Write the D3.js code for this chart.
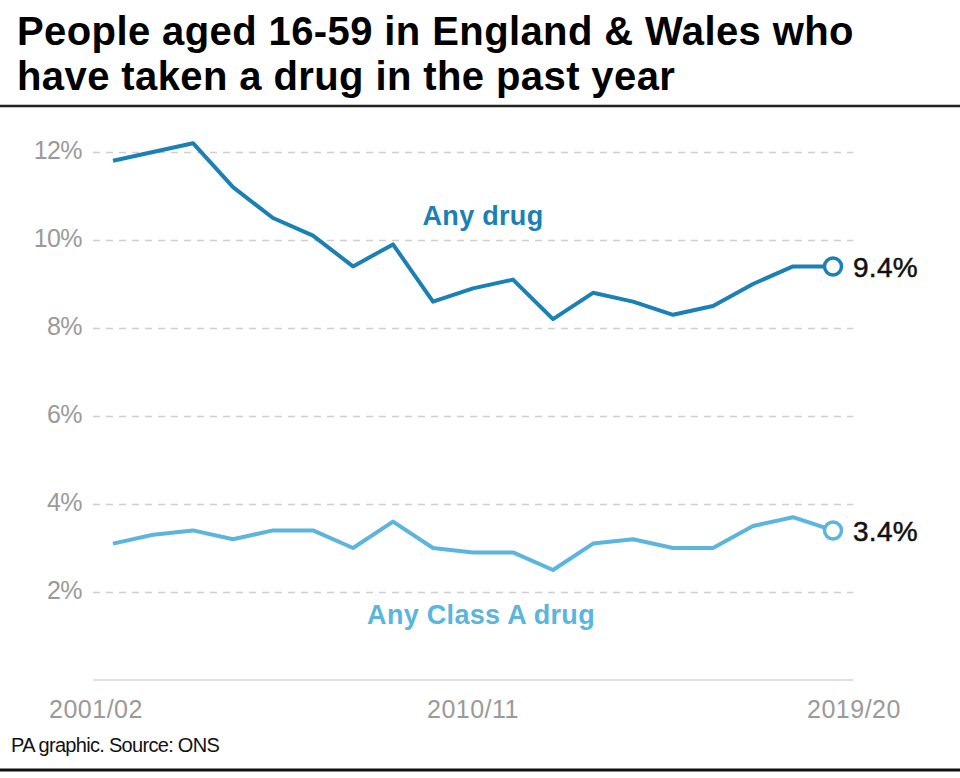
<!DOCTYPE html>
<html>
<head>
<meta charset="utf-8">
<script src="https://cdn.jsdelivr.net/npm/d3@7"></script>
<style>
  html, body { margin: 0; padding: 0; background: #fff; }
  svg { display: block; font-family: "Liberation Sans", Arial, sans-serif; }
</style>
</head>
<body>
<svg id="chart" width="960" height="778"></svg>
<script>
const years = ["2001/02","2002/03","2003/04","2004/05","2005/06","2006/07","2007/08","2008/09","2009/10","2010/11","2011/12","2012/13","2013/14","2014/15","2015/16","2016/17","2017/18","2018/19","2019/20"];
const anyDrug = [11.8, 12.0, 12.2, 11.2, 10.5, 10.1, 9.4, 9.9, 8.6, 8.9, 9.1, 8.2, 8.8, 8.6, 8.3, 8.5, 9.0, 9.4, 9.4];
const classA = [3.1, 3.3, 3.4, 3.2, 3.4, 3.4, 3.0, 3.6, 3.0, 2.9, 2.9, 2.5, 3.1, 3.2, 3.0, 3.0, 3.5, 3.7, 3.4];
const yTicks = [2, 4, 6, 8, 10, 12];
const xTickLabels = ["2001/02", "2010/11", "2019/20"];
const titleLines = ["People aged 16-59 in England & Wales who", "have taken a drug in the past year"];

const colDark = "#1a80b6";
const colLight = "#5bb5dc";

const svg = d3.select("#chart");

// Title
svg.append("g").selectAll("text").data(titleLines).join("text")
  .attr("x", 17).attr("y", (d, i) => 44.5 + i * 45)
  .attr("font-size", 40).attr("font-weight", "bold")
  .attr("letter-spacing", 0.4)
  .attr("fill", "#000").text(d => d);

svg.append("line").attr("x1", 0).attr("x2", 960).attr("y1", 106).attr("y2", 106)
  .attr("stroke", "#222").attr("stroke-width", 2.5);

const x = d3.scaleBand().domain(years).range([93, 853]);
const cx = d => x(d) + x.bandwidth() / 2;
const y = d3.scaleLinear().domain([0, 12]).range([680, 152]);

// gridlines
const yAxis = d3.axisLeft(y).tickValues(yTicks).tickSize(-(853 - 93)).tickFormat(d => d + "%");
const gy = svg.append("g").attr("transform", "translate(93,0)").call(yAxis);
gy.select(".domain").remove();
gy.selectAll(".tick line").attr("stroke", "#cfcfcf").attr("stroke-width", 1.5).attr("stroke-dasharray", "7,6");
gy.selectAll(".tick text").attr("x", -11).attr("dy", "0.26em")
  .attr("font-size", 25).attr("fill", "#9a9a9a").attr("font-family", "Liberation Sans, Arial, sans-serif")
  .attr("letter-spacing", -0.6);

// baseline
svg.append("line").attr("x1", 93).attr("x2", 853).attr("y1", y(0)).attr("y2", y(0))
  .attr("stroke", "#d5d5d5").attr("stroke-width", 1.5);

// x labels
const labelOffset = {"2001/02": -17, "2010/11": 0, "2019/20": 21};
svg.append("g").selectAll("text").data(xTickLabels).join("text")
  .attr("x", d => cx(d) + labelOffset[d]).attr("y", 718)
  .attr("text-anchor", "middle").attr("font-size", 25).attr("fill", "#9a9a9a")
  .attr("letter-spacing", 0.5).text(d => d);

// lines
const line = d3.line().x((d, i) => cx(years[i])).y(d => y(d));
svg.append("path").datum(classA).attr("d", line).attr("fill", "none")
  .attr("stroke", colLight).attr("stroke-width", 4).attr("stroke-linejoin", "round");
svg.append("path").datum(anyDrug).attr("d", line).attr("fill", "none")
  .attr("stroke", colDark).attr("stroke-width", 4).attr("stroke-linejoin", "round");

const last = years.length - 1;
[[anyDrug, colDark], [classA, colLight]].forEach(([s, c]) => {
  svg.append("circle").attr("cx", cx(years[last])).attr("cy", y(s[last])).attr("r", 8.5)
    .attr("fill", "#fff").attr("stroke", c).attr("stroke-width", 3.5);
  svg.append("text").attr("x", cx(years[last]) + 20).attr("y", y(s[last]) + 11)
    .attr("font-size", 28).attr("fill", "#111").attr("stroke", "#111").attr("stroke-width", 0.5)
    .attr("letter-spacing", 0.3)
    .text(s[last].toFixed(1) + "%");
});

// series labels
svg.append("text").attr("x", 483).attr("y", 225).attr("text-anchor", "middle")
  .attr("font-size", 27).attr("font-weight", "bold").attr("fill", colDark)
  .attr("letter-spacing", 0.3).text("Any drug");
svg.append("text").attr("x", 481).attr("y", 624).attr("text-anchor", "middle")
  .attr("font-size", 27).attr("font-weight", "bold").attr("fill", colLight)
  .attr("letter-spacing", 0.3).text("Any Class A drug");

// source
svg.append("text").attr("x", 11).attr("y", 752).attr("font-size", 20).attr("fill", "#111")
  .attr("letter-spacing", -0.7).text("PA graphic. Source: ONS");
svg.append("line").attr("x1", 0).attr("x2", 960).attr("y1", 770).attr("y2", 770)
  .attr("stroke", "#111").attr("stroke-width", 3);
</script>
</body>
</html>
